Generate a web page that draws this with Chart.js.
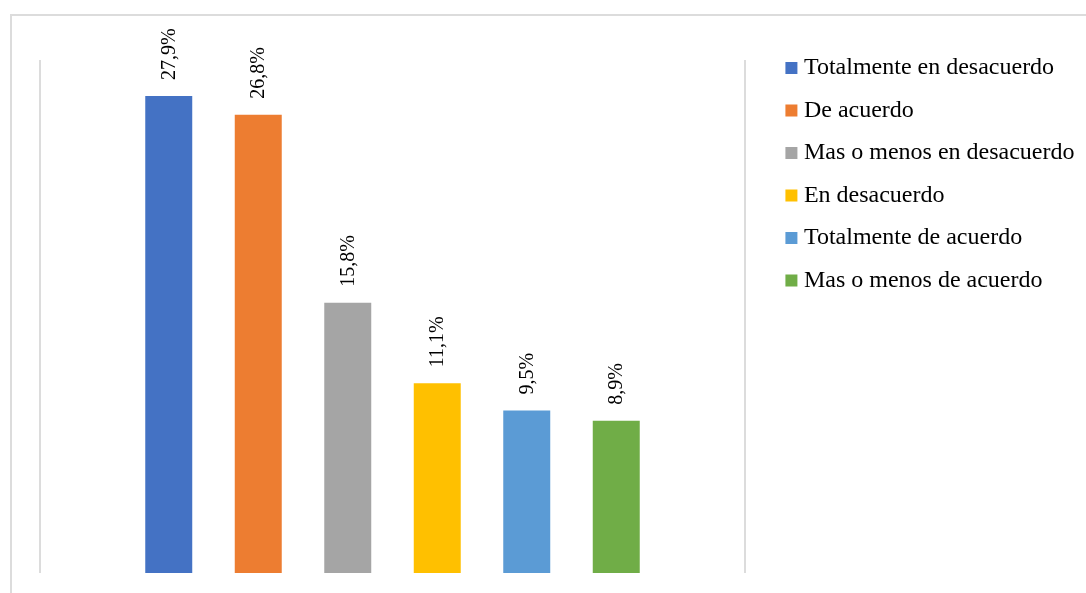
<!DOCTYPE html>
<html>
<head>
<meta charset="utf-8">
<script src="https://cdn.jsdelivr.net/npm/chart.js@4"></script>
<style>
  html, body { margin: 0; padding: 0; background: #fff; }
  #wrap { position: relative; width: 1086px; height: 593px; overflow: hidden; }
  #frame { position: absolute; left: 10px; top: 14px; width: 1200px; height: 700px;
           border-left: 2px solid #dcdcdc; border-top: 2px solid #dcdcdc; }
  #grafico { position: absolute; left: 0; top: 0; }
</style>
</head>
<body>
<div id="wrap">
  <div id="frame"></div>
  <canvas id="grafico" width="1086" height="593"></canvas>
</div>
<script>
// Respuestas (porcentaje de encuestados)
const categorias = [
    'Totalmente en desacuerdo',
    'De acuerdo',
    'Mas o menos en desacuerdo',
    'En desacuerdo',
    'Totalmente de acuerdo',
    'Mas o menos de acuerdo'
];
const porcentajes = [27.9, 26.8, 15.8, 11.1, 9.5, 8.9];
const colores = ['#4472C4', '#ED7D31', '#A5A5A5', '#FFC000', '#5B9BD5', '#70AD47'];

const fuente = '"Liberation Serif", "Times New Roman", serif';
const bordeDerecho = 745; // borde derecho del área de barras

// Etiqueta vertical encima de cada barra: "27,9%"
const etiquetasBarras = {
    id: 'etiquetasBarras',
    afterDatasetsDraw(chart) {
        const ctx = chart.ctx;
        ctx.save();
        ctx.font = '20px ' + fuente;
        ctx.fillStyle = '#000';
        ctx.textAlign = 'left';
        ctx.textBaseline = 'alphabetic';
        chart.data.datasets.forEach((ds, i) => {
            const barra = chart.getDatasetMeta(i).data[0];
            const texto = ds.data[0].toFixed(1).replace('.', ',') + '%';
            ctx.save();
            ctx.translate(barra.x + 6, barra.y - 16);
            ctx.rotate(-Math.PI / 2);
            ctx.fillText(texto, 0, 0);
            ctx.restore();
        });
        ctx.restore();
    }
};

const chart = new Chart(document.getElementById('grafico').getContext('2d'), {
    type: 'bar',
    data: {
        labels: [''],
        datasets: categorias.map((nombre, i) => ({
            label: nombre,
            data: [porcentajes[i]],
            backgroundColor: colores[i],
            borderWidth: 0,
            categoryPercentage: 0.7617,
            barPercentage: 0.525
        }))
    },
    options: {
        responsive: false,
        animation: false,
        devicePixelRatio: 1,
        layout: { padding: { left: 40, top: 37.5, bottom: 20, right: 1.5 } },
        scales: {
            x: {
                grid: { color: '#dcdcdc', lineWidth: 2, drawTicks: false },
                border: { display: false },
                ticks: { display: false },
                afterFit: s => { s.height = 0; }
            },
            // espaciador superior: baja el área de trazado sin mover la leyenda
            xTop: {
                type: 'category',
                position: 'top',
                labels: [''],
                grid: { display: false },
                border: { display: false },
                ticks: { display: false },
                afterFit: s => { s.height = 22.5; }
            },
            y: {
                position: 'right',
                min: 0,
                max: 30,
                grid: { display: false },
                border: { display: false },
                ticks: { display: false },
                // hueco entre las barras y la leyenda
                afterFit: s => {
                    const leyenda = s.chart.legend;
                    s.width = s.chart.width - 1.5 - leyenda.width - bordeDerecho;
                }
            }
        },
        plugins: {
            legend: {
                position: 'right',
                align: 'start',
                maxWidth: 400,
                labels: {
                    usePointStyle: true,
                    pointStyle: 'rect',
                    boxWidth: 1,
                    boxHeight: 12,
                    padding: 18.5,
                    color: '#000',
                    font: { family: fuente, size: 24 }
                }
            },
            tooltip: { enabled: false }
        }
    },
    plugins: [etiquetasBarras]
});
</script>
</body>
</html>
